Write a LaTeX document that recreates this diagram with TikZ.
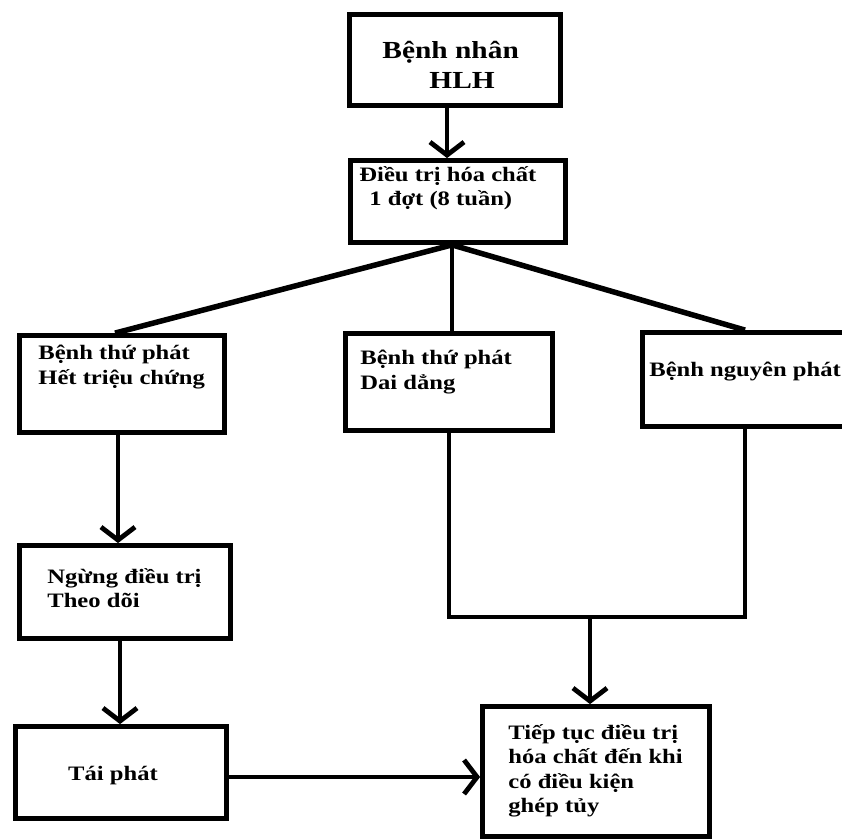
\documentclass[tikz,border=0pt]{standalone}
\usepackage{fontspec}
\setmainfont{Liberation Serif}[FakeStretch=1.2]
\usetikzlibrary{arrows.meta}

\begin{document}
\begin{tikzpicture}[x=1pt, y=-1pt, line width=4.8pt,
    box/.style={draw, rectangle, inner sep=0pt},
    txt/.style={anchor=west, align=left, inner sep=0pt,
        font=\bfseries\fontsize{20.5}{24.5}\selectfont},
    txtbig/.style={txt, font=\bfseries\fontsize{24.5}{30}\selectfont},
    arr/.style={-{Straight Barb[length=13pt,width=34pt]}}]

    \useasboundingbox (0,0) rectangle (842,838);
    \clip (0,0) rectangle (842,838);

    %========================
    % Top: patient and first treatment
    %========================
    % Boxes
    \node[box, minimum width=211pt, minimum height=91pt] (patient) at (455,60) {};
    \node[box, minimum width=215pt, minimum height=82pt] (chemo) at (458,201.5) {};

    % Texts
    \node[txtbig] (patientT) at (380,65) {Bệnh nhân\\\hspace*{47pt}HLH};
    \node[txt] (chemoT) at (357,188) {Điều trị hóa chất\\\hspace*{10pt}1 đợt (8 tuần)};

    % patient -> chemo
    \draw[arr] ([xshift=-8pt]patient.south) -- ([xshift=-8pt]patient.south |- chemo.north);

    %========================
    % Middle: three outcomes
    %========================
    \node[box, minimum width=205pt, minimum height=97pt] (remit) at (122,384) {};
    \node[box, minimum width=207pt, minimum height=97pt] (persist) at (449,382) {};
    \node[box, minimum width=205pt, minimum height=94pt] (primary) at (745,379.5) {};

    \node[txt] (remitT) at (36,367) {Bệnh thứ phát\\Hết triệu chứng};
    \node[txt] (persistT) at (358,372) {Bệnh thứ phát\\Dai dẳng};
    \node[txt] (primaryT) at (647,372) {Bệnh nguyên phát};

    % Branches (no arrow heads)
    \draw[line width=5.5pt] ([xshift=-6pt]chemo.south) -- ([xshift=-7pt]remit.north);
    \draw ([xshift=-6pt]chemo.south) -- ([xshift=-6pt]chemo.south |- persist.north);
    \draw[line width=5.5pt] ([xshift=-6pt]chemo.south) -- (primary.north);

    %========================
    % Left column: stop and relapse
    %========================
    \node[box, minimum width=211pt, minimum height=93pt] (stop) at (125,592) {};
    \node[box, minimum width=211pt, minimum height=92pt] (relapse) at (121,772.5) {};

    \node[txt] (stopT) at (45,588) {Ngừng điều trị\\Theo dõi};
    \node[txt, anchor=center] (relapseT) at (113,776) {Tái phát};

    \draw[arr] ([xshift=-4pt]remit.south) -- ([xshift=-4pt]remit.south |- stop.north);
    \draw[arr] ([xshift=-5pt]stop.south) -- ([xshift=-5pt]stop.south |- relapse.north);

    %========================
    % Right: continue treatment
    %========================
    \node[box, minimum width=227pt, minimum height=130pt] (cont) at (596,771.5) {};
    \node[txt] (contT) at (506,771) {Tiếp tục điều trị\\hóa chất đến khi\\có điều kiện\\ghép tủy};

    % Merge of persistent and primary
    \coordinate (merge) at (590,617);
    \draw (persist.south) |- (merge) -| (primary.south);
    \draw[arr] (merge) -- (merge |- cont.north);

    % relapse -> cont
    \draw[arr] ([yshift=-4.5pt]relapse.east) -- ([yshift=-4.5pt]relapse.east -| cont.west);

\end{tikzpicture}
\end{document}
